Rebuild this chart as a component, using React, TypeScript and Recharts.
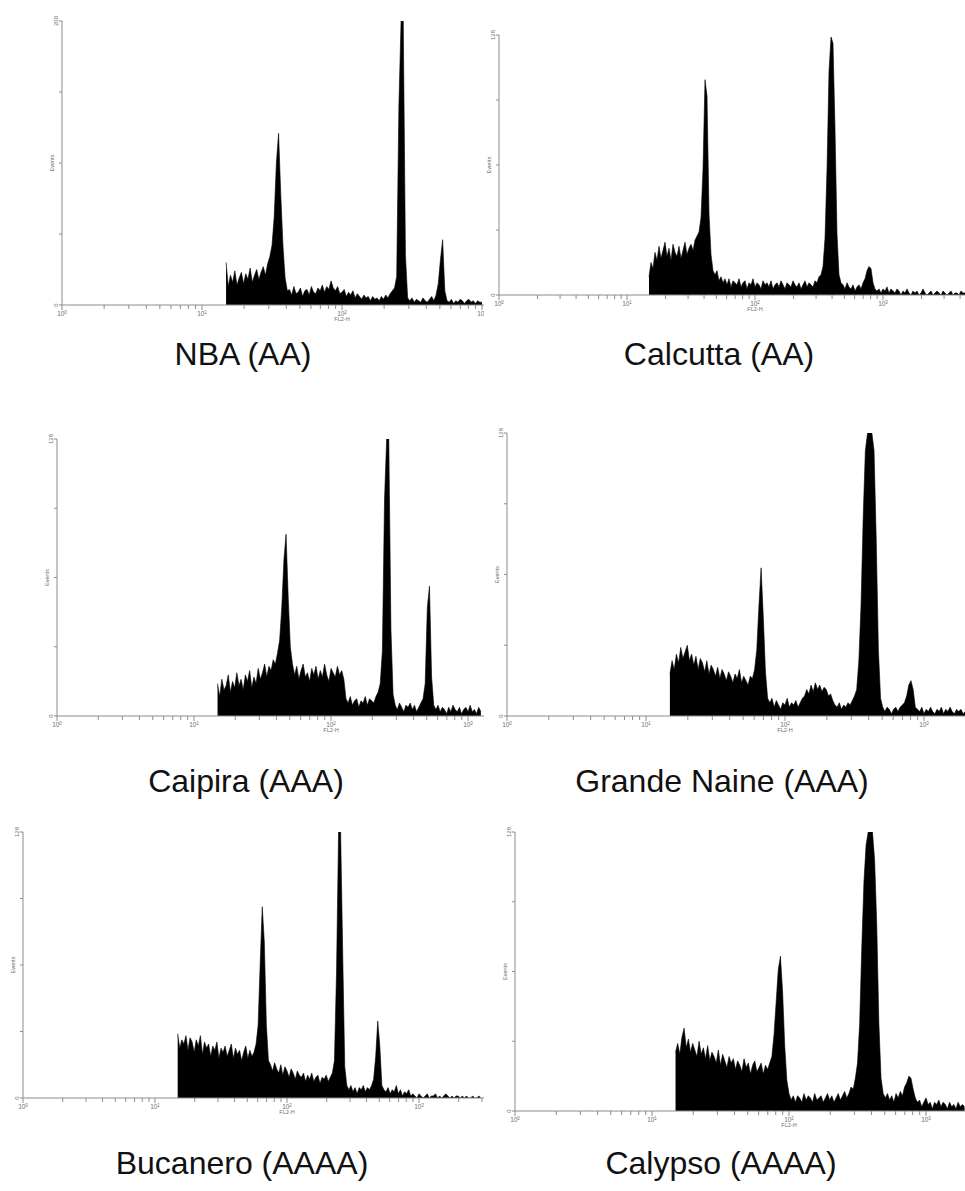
import React from 'react';
import { AreaChart, Area, XAxis, YAxis, Label } from 'recharts';

// ---------- data (FL2-H histograms, channel 75 = 1.5x10^1, 64 channels per decade) ----------
const START_CHANNEL = 75;
const CHANNELS_PER_DECADE = 64;
const DECADE_EXPONENTS = ['0', '1', '2', '3', '4'];
const MINOR_MULTIPLIERS = [2, 3, 4, 5, 6, 7, 8, 9];

const nbaValues = [
  30, 13, 21, 16, 24, 14, 19, 23, 15, 22, 18, 26, 16, 21, 25, 18, 23, 27, 21, 29,
  34, 42, 62, 100, 121, 78, 42, 19, 10,
  11, 7, 13, 8, 9, 12, 6, 10, 11, 7, 13, 9, 8, 12, 10, 14, 9, 13, 11, 17, 12, 10, 13, 8, 9, 11, 6, 9, 7, 10, 5, 8, 6, 4, 7, 5, 6, 3, 6, 4, 5, 3, 6, 4, 7, 5, 8, 10,
  12, 20, 140, 200, 200, 35, 5,
  3, 5, 2, 4, 3, 2, 5, 3, 2, 4, 6, 3, 7,
  15, 32, 46, 10,
  3, 2, 4, 1, 3, 2, 4, 3, 1, 3, 4, 2, 3, 1, 3, 2, 2,
];

const calcuttaValues = [
  9, 16, 13, 21, 17, 24, 18, 22, 26, 19, 23, 17, 25, 21, 19, 24, 18, 22, 26, 20, 23, 25, 22, 27, 29,
  31, 38, 62, 106, 98, 40, 20, 12, 10,
  12, 7, 9, 6, 8, 5, 8, 4, 7, 6, 5, 8, 4, 6, 7, 3, 6, 5, 8, 4, 6, 5, 3, 7, 5, 6, 4, 7, 3, 5, 6, 4, 7, 5, 3, 6, 5, 4, 7, 5, 4, 6, 3, 5, 7, 4, 6, 5, 4, 7, 6, 9,
  10, 14, 28, 62, 110, 127, 124, 82, 30, 10, 6,
  5, 3, 6, 4, 3, 5, 2, 4, 5, 3, 6, 8, 12, 14, 13, 6, 3,
  2, 3, 1, 3, 2, 4, 1, 3, 2, 1, 3, 2, 0, 2, 1, 3, 1, 0, 2, 1, 2, 0, 1, 3, 1, 0, 1, 2, 0, 1, 2, 1, 0, 2, 1, 0, 1, 2, 0, 1, 1, 0, 2, 1, 1,
];

const caipiraValues = [
  15, 9, 17, 12, 14, 19, 11, 16, 13, 20, 14, 17, 12, 19, 16, 21, 13, 18, 15, 22, 17, 20, 24, 18, 23, 21, 26, 24, 29,
  35, 50, 72, 84, 55, 32, 24,
  19, 23, 17, 21, 24, 18, 20, 16, 22, 19, 23, 17, 21, 18, 24, 19, 16, 22, 20, 18, 23, 19, 21, 17,
  8, 6, 9, 5, 7, 8, 4, 7, 6, 9, 5, 8, 7, 6, 9, 11, 15,
  30, 100, 128, 128, 40, 10,
  5, 3, 6, 4, 2, 5, 4, 6, 3, 5, 2, 4, 6, 8, 15, 50, 60, 18, 5,
  3, 5, 2, 4, 3, 1, 4, 2, 5, 3, 2, 4, 1, 3, 4, 2, 5, 2, 3, 1, 4, 2,
];

const grandeNaineValues = [
  19, 25, 21, 28, 24, 31, 26, 29, 32, 25, 28, 23, 27, 21, 26, 24, 20, 25, 19, 23, 21, 18, 22, 17, 21, 19, 16, 20, 18, 15, 19, 17, 21, 15, 18, 16, 14, 18, 17, 21,
  30, 50, 67, 45, 20, 8,
  6, 8, 4, 7, 5, 3, 6, 5, 8, 4, 6, 5, 7, 4, 6, 8, 9, 12, 10, 14, 11, 15, 12, 14, 11, 13, 12, 9, 10, 7, 5, 4, 6, 3, 5, 4, 6, 5, 7, 9,
  12, 25, 50, 90, 120, 128, 128, 128, 120, 80, 30, 8,
  4, 2, 4, 3, 1, 3, 4, 2, 4, 5, 6, 9, 14, 16, 12, 4, 3,
  2, 4, 1, 3, 2, 4, 2, 1, 3, 2, 4, 1, 3, 2, 4, 2, 1, 3, 2, 3, 1, 2,
];

const bucaneroValues = [
  31, 24, 28, 26, 30, 23, 29, 27, 22, 28, 25, 30, 21, 27, 24, 26, 20, 25, 23, 27, 19, 24, 22, 25, 20, 23, 26, 19, 24, 21, 23, 18, 22, 25, 19, 23, 20, 22, 26,
  35, 65, 92, 75, 35, 18,
  16, 13, 17, 14, 12, 16, 11, 15, 13, 10, 14, 12, 9, 13, 11, 10, 12, 8, 11, 9, 12, 8, 10, 11, 7, 10, 9, 11, 8, 10, 12,
  18, 60, 128, 128, 70, 15, 6,
  4, 6, 3, 5, 2, 5, 4, 6, 3, 5, 4, 6, 9, 20, 37, 25, 6, 4, 3,
  5, 2, 4, 3, 6, 2, 4, 1, 3, 2, 4, 1, 2, 1, 0, 2, 1, 0, 1, 2, 0, 1, 1, 2, 0, 1, 0, 1, 2, 1, 0, 1, 0, 1, 1, 0, 1, 0, 1, 0, 0, 1, 0, 0, 1, 0,
];

const calypsoValues = [
  27, 31, 26, 34, 38, 29, 33, 27, 31, 28, 25, 32, 26, 29, 24, 30, 23, 27, 25, 22, 28, 21, 26, 23, 20, 25, 22, 24, 19, 23, 21, 18, 24, 20, 22, 17, 21, 23, 18, 20, 22, 17, 21, 19, 22,
  25, 35, 50, 65, 71, 55, 30, 14,
  8, 5, 7, 4, 7, 6, 4, 8, 5, 7, 6, 4, 8, 5, 6, 7, 4, 6, 8, 5, 7, 4, 6, 8, 5, 7, 9, 6, 8, 11, 10, 15, 22,
  40, 75, 105, 122, 128, 128, 128, 115, 85, 40, 15,
  8, 6, 8, 5, 7, 4, 8, 6, 9, 7, 11, 13, 16, 15, 10, 6, 4,
  5, 2, 4, 6, 3, 4, 1, 4, 3, 5, 2, 4, 3, 1, 4, 2, 3, 1, 4, 2, 3, 2,
];

const captionLabels = [
  'NBA (AA)',
  'Calcutta (AA)',
  'Caipira (AAA)',
  'Grande Naine (AAA)',
  'Bucanero (AAAA)',
  'Calypso (AAAA)',
];
const yMaxValues = [200, 128, 128, 128, 128, 128];
const seriesList = [nbaValues, calcuttaValues, caipiraValues, grandeNaineValues, bucaneroValues, calypsoValues];

// ---------- layout ----------
type Geo = {
  plotLeft: number; plotTop: number; plotBottom: number; decade: number;
  clip: [number, number, number, number];
  capX: number; capY: number;
};
const geos: Geo[] = [
  { plotLeft: 62, plotTop: 21, plotBottom: 305, decade: 140, clip: [0, 0, 484, 335], capX: 243, capY: 365 },
  { plotLeft: 499, plotTop: 35, plotBottom: 295, decade: 128, clip: [486, 0, 479, 335], capX: 719, capY: 365 },
  { plotLeft: 57, plotTop: 439, plotBottom: 716, decade: 137, clip: [0, 400, 484, 345], capX: 246, capY: 792 },
  { plotLeft: 507, plotTop: 433, plotBottom: 716, decade: 139, clip: [486, 400, 479, 345], capX: 722, capY: 792 },
  { plotLeft: 23, plotTop: 832, plotBottom: 1098, decade: 132, clip: [0, 800, 484, 330], capX: 242, capY: 1174 },
  { plotLeft: 515, plotTop: 832, plotBottom: 1111, decade: 137, clip: [486, 800, 479, 335], capX: 721, capY: 1174 },
];

const AXIS = '#8c8c8c';
const TXT = '#6e6e6e';
const FONT = 'Liberation Sans, Arial, sans-serif';
const M_TOP = 14;
const Y_W = 40;
const X_H = 30;

const xTicks: number[] = [];
for (let d = 0; d < 4; d++) {
  xTicks.push(d * CHANNELS_PER_DECADE);
  MINOR_MULTIPLIERS.forEach((m) => xTicks.push(d * CHANNELS_PER_DECADE + CHANNELS_PER_DECADE * Math.log10(m)));
}
xTicks.push(4 * CHANNELS_PER_DECADE);

const XTick = (props: any) => {
  const { x, y, payload, limit } = props;
  if (x > limit + 4) return <g />;
  const v = payload.value / CHANNELS_PER_DECADE;
  const major = Math.abs(v - Math.round(v)) < 1e-6;
  return (
    <g>
      <line x1={x} x2={x} y1={y} y2={y + (major ? 5 : 4)} stroke={AXIS} strokeWidth={1} />
      {major && (
        <text x={x} y={y + 11} textAnchor="middle" fontSize={6.5} fill={TXT} fontFamily={FONT}>
          10<tspan dy={-2.5} fontSize={4.5}>{DECADE_EXPONENTS[Math.round(v)]}</tspan>
        </text>
      )}
    </g>
  );
};

const YTick = (props: any) => {
  const { x, y, payload, yMax } = props;
  const show = payload.value === 0 || payload.value === yMax;
  return (
    <g>
      <line x1={x - 3} x2={x} y1={y} y2={y} stroke={AXIS} strokeWidth={1} />
      {show && (
        <text transform={`rotate(-90 ${x - 4} ${y})`} x={x - 4} y={y} textAnchor="middle" fontSize={6} fill={TXT} fontFamily={FONT}>
          {payload.value}
        </text>
      )}
    </g>
  );
};

function Panel({ geo, values, yMax }: { geo: Geo; values: number[]; yMax: number }) {
  const plotH = geo.plotBottom - geo.plotTop;
  const plotW = geo.decade * 4;
  const width = Y_W + plotW + 20;
  const height = M_TOP + plotH + X_H;
  const data = values.map((v, i) => ({ ch: START_CHANNEL + i, v }));
  const yTicks = [0, yMax / 4, yMax / 2, (3 * yMax) / 4, yMax];
  const [cl, ct, cw, ch] = geo.clip;
  const chartLeft = geo.plotLeft - Y_W - cl;
  const limit = cw - chartLeft;
  return (
    <div style={{ position: 'absolute', left: cl, top: ct, width: cw, height: ch, overflow: 'hidden' }}>
      <div style={{ position: 'absolute', left: chartLeft, top: geo.plotTop - M_TOP - ct }}>
        <AreaChart width={width} height={height} data={data} margin={{ top: M_TOP, right: 20, left: 0, bottom: 0 }}>
          <XAxis
            type="number"
            dataKey="ch"
            domain={[0, 4 * CHANNELS_PER_DECADE]}
            allowDataOverflow
            ticks={xTicks}
            interval={0}
            tickSize={0}
            tickMargin={0}
            tickLine={false}
            height={X_H}
            axisLine={{ stroke: AXIS, strokeWidth: 1 }}
            tick={(p: any) => <XTick {...p} limit={limit} />}
          >
            <Label
              content={() => (
                <text x={Y_W + 2 * geo.decade} y={M_TOP + plotH + 16} textAnchor="middle" fontSize={5.5} fill={TXT} fontFamily={FONT}>
                  FL2-H
                </text>
              )}
            />
          </XAxis>
          <YAxis
            type="number"
            domain={[0, yMax]}
            allowDataOverflow
            ticks={yTicks}
            interval={0}
            tickSize={0}
            tickMargin={0}
            tickLine={false}
            width={Y_W}
            axisLine={{ stroke: AXIS, strokeWidth: 1 }}
            tick={(p: any) => <YTick {...p} yMax={yMax} />}
          >
            <Label
              content={() => (
                <text
                  transform={`rotate(-90 ${Y_W - 8.5} ${M_TOP + plotH / 2})`}
                  x={Y_W - 8.5}
                  y={M_TOP + plotH / 2}
                  textAnchor="middle"
                  fontSize={5.5}
                  fill={TXT}
                  fontFamily={FONT}
                >
                  Events
                </text>
              )}
            />
          </YAxis>
          <Area
            type="linear"
            dataKey="v"
            stroke="#000"
            strokeWidth={0.6}
            fill="#000"
            fillOpacity={1}
            dot={false}
            activeDot={false}
            isAnimationActive={false}
          />
        </AreaChart>
      </div>
    </div>
  );
}

export default function App() {
  return (
    <div style={{ position: 'absolute', left: 0, top: 0, width: 965, height: 1191, overflow: 'hidden', background: '#fff' }}>
      {geos.map((g, i) => (
        <Panel key={i} geo={g} values={seriesList[i]} yMax={yMaxValues[i]} />
      ))}
      <svg width={965} height={1191} style={{ position: 'absolute', left: 0, top: 0, pointerEvents: 'none' }}>
        {geos.map((g, i) => (
          <text key={i} x={g.capX} y={g.capY} textAnchor="middle" fontSize={32} fill="#111" fontFamily={FONT}>
            {captionLabels[i]}
          </text>
        ))}
      </svg>
    </div>
  );
}
